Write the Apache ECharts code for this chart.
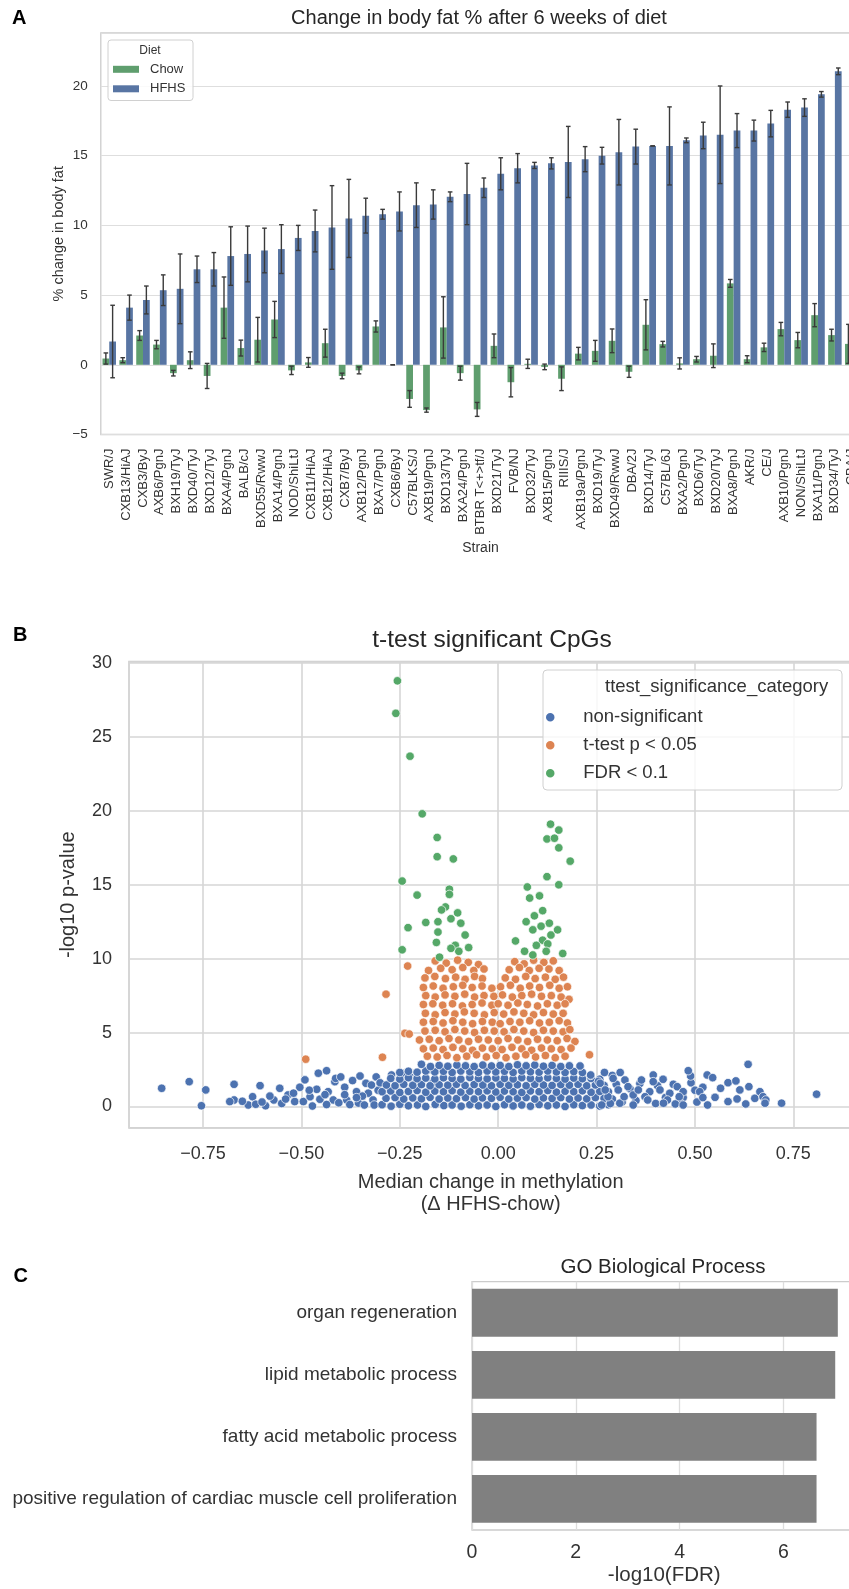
<!DOCTYPE html>
<html>
<head>
<meta charset="utf-8">
<script src="https://cdn.jsdelivr.net/npm/echarts@6/dist/echarts.min.js"></script>
<style>
html,body{margin:0;padding:0;background:#fff;overflow:hidden;width:849px;height:1589px;}
#c{width:900px;height:1589px;}
</style>
</head>
<body>
<div id="c"></div>
<script>
// ---------- Panel A data ----------
const strains = ['SWR/J','CXB13/HiAJ','CXB3/ByJ','AXB6/PgnJ','BXH19/TyJ','BXD40/TyJ','BXD12/TyJ','BXA4/PgnJ','BALB/cJ','BXD55/RwwJ','BXA14/PgnJ','NOD/ShiLtJ','CXB11/HiAJ','CXB12/HiAJ','CXB7/ByJ','AXB12/PgnJ','BXA7/PgnJ','CXB6/ByJ','C57BLKS/J','AXB19/PgnJ','BXD13/TyJ','BXA24/PgnJ','BTBR T<+>tf/J','BXD21/TyJ','FVB/NJ','BXD32/TyJ','AXB15/PgnJ','RIIIS/J','AXB19a/PgnJ','BXD19/TyJ','BXD49/RwwJ','DBA/2J','BXD14/TyJ','C57BL/6J','BXA2/PgnJ','BXD6/TyJ','BXD20/TyJ','BXA8/PgnJ','AKR/J','CE/J','AXB10/PgnJ','NON/ShiLtJ','BXA11/PgnJ','BXD34/TyJ','CBA/J'];
const chowMean = [0.45,0.33,2.1,1.45,-0.6,0.33,-0.8,4.1,1.2,1.8,3.25,-0.4,0.17,1.55,-0.8,-0.4,2.75,0.0,-2.45,-3.25,2.68,-0.6,-3.2,1.36,-1.25,0.07,-0.15,-1.0,0.8,1.0,1.72,-0.5,2.87,1.48,0.1,0.4,0.65,5.84,0.4,1.25,2.56,1.77,3.56,2.13,1.5];
const chowErr  = [0.4,0.18,0.35,0.3,0.2,0.6,0.9,2.2,0.57,1.6,1.3,0.3,0.35,1.0,0.2,0.25,0.4,0.0,0.6,0.15,2.2,0.5,0.5,0.85,1.05,0.33,0.2,0.85,0.45,0.75,0.85,0.4,1.8,0.2,0.4,0.2,0.85,0.28,0.25,0.3,0.48,0.55,0.83,0.42,1.4];
const hfhsMean = [1.67,4.1,4.65,5.35,5.45,6.85,6.85,7.8,7.95,8.2,8.3,9.1,9.6,9.85,10.5,10.7,10.8,11.0,11.45,11.5,12.05,12.25,12.7,13.7,14.1,14.3,14.45,14.55,14.75,15.0,15.25,15.65,15.7,15.7,16.1,16.45,16.5,16.8,16.8,17.3,18.3,18.45,19.4,21.05,21.5];
const hfhsErr  = [2.6,0.9,1.0,1.1,2.5,0.95,1.2,2.1,2.0,1.6,1.75,0.9,1.5,3.0,2.8,1.25,0.35,1.4,1.6,1.05,0.35,2.2,0.7,1.15,1.05,0.22,0.4,2.55,0.9,0.6,2.35,1.25,0.0,2.8,0.17,0.95,3.5,1.22,0.75,0.95,0.55,0.63,0.2,0.24,0.3];
const dietNames = ['Chow','HFHS'];

// ---------- Panel B data ----------
const catNames = ['non-significant','t-test p < 0.05','FDR < 0.1'];
const nonSig = [
[-0.855,1.23],[-0.785,1.68],[-0.743,1.12],[-0.754,0.05],[-0.671,1.5],[-0.671,0.44],[-0.682,0.33],[-0.605,1.41],[-0.624,0.66],[-0.635,0.1],[-0.616,0.15],[-0.591,0.05],[-0.57,0.44],[-0.555,1.23],[-0.534,0.78],[-0.517,0.33],[-0.504,1.3],[-0.491,1.8],[-0.495,0.33],[-0.478,0.66],[-0.457,2.25],[-0.436,2.42],[-0.415,1.68],[-0.413,1.9],[-0.461,1.16],[-0.453,0.49],[-0.432,1.0],[-0.419,0.44],[-0.472,0.03],[-0.436,0.13],[-0.385,0.44],[-0.377,0.13],[-0.351,2.06],[-0.336,1.57],[-0.36,1.0],[-0.33,0.9],[-0.355,0.23],[-0.318,0.44],[-0.305,1.1],
[-0.4,2.0],[-0.39,1.3],[-0.37,1.75],[-0.345,0.7],[-0.322,1.45],[-0.31,2.0],[-0.39,0.8],[-0.405,0.25],[-0.44,0.8],[-0.36,0.6],[-0.315,0.1],[-0.34,0.1],[-0.3,1.6],[-0.48,1.1],[-0.52,0.9],[-0.55,0.2],[-0.58,0.7],[-0.6,0.3],[-0.65,0.35],[-0.54,0.5],
[-0.271,2.13],[-0.245,2.25],[-0.224,2.0],[-0.208,1.9],[-0.174,2.5],[-0.166,1.62],
[-0.295,0.12],[-0.272,0.02],[-0.25,0.15],[-0.228,0.05],[-0.205,0.1],[-0.184,0.0],[-0.16,0.14],[-0.138,0.06],[-0.117,0.1],[-0.094,0.02],[-0.072,0.12],[-0.05,0.05],[-0.028,0.1],[-0.006,0.0],[0.016,0.12],[0.038,0.04],[0.06,0.1],[0.082,0.02],[0.104,0.13],[0.126,0.05],[0.148,0.1],[0.17,0.0],[0.192,0.12],[0.214,0.06],[0.236,0.1],[0.258,0.03],[0.28,0.12],
[-0.285,0.55],[-0.262,0.6],[-0.24,0.5],[-0.217,0.58],[-0.195,0.52],[-0.173,0.62],[-0.15,0.5],[-0.128,0.57],[-0.106,0.53],[-0.083,0.6],[-0.061,0.5],[-0.04,0.58],[-0.017,0.55],[0.005,0.62],[0.027,0.5],[0.049,0.56],[0.071,0.6],[0.093,0.5],[0.115,0.58],[0.137,0.54],[0.159,0.6],[0.181,0.5],[0.203,0.57],[0.225,0.52],[0.247,0.6],[0.269,0.55],[0.29,0.5],
[-0.295,1.0],[-0.273,1.05],[-0.25,0.95],[-0.228,1.02],[-0.206,1.08],[-0.184,0.96],[-0.161,1.04],[-0.139,1.0],[-0.117,1.07],[-0.095,0.97],[-0.072,1.03],[-0.05,1.0],[-0.028,1.06],[-0.006,0.98],[0.016,1.04],[0.038,1.0],[0.06,0.95],[0.082,1.05],[0.104,1.0],[0.126,1.08],[0.148,0.97],[0.17,1.03],[0.192,1.0],[0.214,1.06],[0.236,0.96],[0.258,1.02],[0.28,1.0],
[-0.284,1.45],[-0.262,1.4],[-0.24,1.5],[-0.217,1.43],[-0.195,1.48],[-0.173,1.4],[-0.15,1.47],[-0.128,1.44],[-0.106,1.5],[-0.084,1.42],[-0.061,1.48],[-0.039,1.45],[-0.017,1.4],[0.005,1.5],[0.027,1.43],[0.049,1.47],[0.071,1.4],[0.093,1.5],[0.115,1.45],[0.137,1.42],[0.159,1.48],[0.181,1.44],[0.203,1.5],[0.225,1.4],[0.247,1.46],[0.269,1.42],
[-0.273,1.9],[-0.25,1.85],[-0.228,1.95],[-0.206,1.88],[-0.184,1.92],[-0.161,1.86],[-0.139,1.94],[-0.117,1.9],[-0.095,1.85],[-0.072,1.96],[-0.05,1.9],[-0.028,1.87],[-0.006,1.93],[0.016,1.9],[0.038,1.86],[0.06,1.95],[0.082,1.9],[0.104,1.88],[0.126,1.94],[0.148,1.9],[0.17,1.85],[0.192,1.92],[0.214,1.88],[0.236,1.9],[0.258,1.84],
[-0.25,2.3],[-0.228,2.38],[-0.206,2.32],[-0.184,2.4],[-0.161,2.34],[-0.139,2.38],[-0.117,2.3],[-0.095,2.4],[-0.072,2.35],[-0.05,2.3],[-0.028,2.4],[-0.006,2.34],[0.016,2.38],[0.038,2.3],[0.06,2.4],[0.082,2.35],[0.104,2.32],[0.126,2.4],[0.148,2.34],[0.17,2.3],[0.192,2.36],[0.214,2.3],[0.235,2.1],
[-0.195,2.85],[-0.172,2.7],[-0.15,2.78],[-0.128,2.72],[-0.105,2.8],[-0.083,2.75],[-0.061,2.7],[-0.039,2.8],[-0.017,2.74],[0.005,2.78],[0.027,2.7],[0.049,2.82],[0.071,2.75],[0.093,2.8],[0.115,2.72],[0.137,2.78],[0.159,2.7],[0.181,2.75],[0.208,2.74],
[0.3,1.5],[0.315,0.3],[0.335,1.2],[0.35,0.4],[0.36,1.55],[0.385,1.0],[0.4,0.2],[0.405,1.4],[0.425,0.6],[0.445,1.5],[0.47,0.6],[0.49,1.6],[0.505,0.3],[0.52,1.3],[0.29,2.1],[0.31,2.3],[0.27,2.3],[0.285,0.2],[0.255,1.7],
[0.419,1.84],[0.394,2.13],[0.394,1.68],[0.373,0.66],[0.343,0.78],[0.343,0.1],[0.309,0.22],[0.292,1.9],[0.279,0.66],[0.263,0.1],[0.322,1.79],[0.364,1.79],[0.411,1.12],[0.436,0.89],[0.43,0.44],[0.38,0.44],[0.356,1.12],[0.33,1.34],[0.305,1.12],[0.32,0.66],[0.259,1.57],[0.272,1.12],[0.42,0.22],[0.455,1.34],
[0.5,1.1],[0.47,1.0],[0.46,0.33],[0.45,0.17],[0.46,0.66],[0.47,0.1],[0.489,2.06],[0.483,2.42],[0.512,1.0],[0.52,0.6],[0.531,2.13],[0.545,1.95],[0.532,0.1],[0.551,0.62],[0.565,1.23],[0.584,1.61],[0.584,0.33],[0.604,1.73],[0.607,0.51],[0.614,1.12],[0.637,1.34],[0.629,0.17],[0.652,0.55],[0.665,1.0],[0.673,0.66],[0.68,0.44],[0.678,0.22],[0.72,0.22],[0.635,2.85],[0.809,0.83],[0.208,2.74],[0.235,2.13]
];
const ttestSig = [
[-0.16,9.85],[-0.132,9.7],[-0.103,9.9],[-0.076,9.75],[-0.05,9.6],[0.042,9.8],[0.066,9.65],[0.09,9.9],[0.116,9.75],[0.14,9.85],
[-0.177,9.2],[-0.146,9.35],[-0.117,9.25],[-0.09,9.4],[-0.062,9.2],[-0.036,9.3],[0.028,9.25],[0.054,9.4],[0.079,9.2],[0.104,9.35],[0.129,9.3],[0.155,9.2],
[-0.186,8.7],[-0.161,8.8],[-0.134,8.65],[-0.108,8.75],[-0.084,8.6],[-0.06,8.8],[-0.04,8.65],[0.018,8.7],[0.044,8.6],[0.07,8.8],[0.094,8.65],[0.12,8.75],[0.145,8.6],[0.166,8.75],
[-0.19,8.05],[-0.165,8.15],[-0.14,8.0],[-0.114,8.1],[-0.09,8.2],[-0.066,8.05],[-0.041,8.15],[-0.016,8.0],[0.006,8.1],[0.031,8.2],[0.056,8.0],[0.08,8.15],[0.105,8.05],[0.131,8.2],[0.155,8.0],[0.176,8.1],
[-0.184,7.5],[-0.16,7.4],[-0.135,7.55],[-0.11,7.45],[-0.085,7.6],[-0.06,7.4],[-0.036,7.5],[-0.011,7.45],[0.011,7.55],[0.036,7.4],[0.06,7.5],[0.085,7.6],[0.11,7.45],[0.135,7.5],[0.16,7.4],[0.18,7.25],
[-0.19,6.9],[-0.166,6.95],[-0.141,6.85],[-0.116,6.95],[-0.091,6.8],[-0.066,6.9],[-0.041,7.0],[-0.016,6.85],[0.0,6.95],[0.025,6.85],[0.05,7.0],[0.074,6.9],[0.1,6.8],[0.125,6.95],[0.15,6.85],[0.17,6.95],
[-0.185,6.3],[-0.16,6.2],[-0.135,6.35],[-0.11,6.25],[-0.086,6.4],[-0.061,6.3],[-0.035,6.2],[-0.01,6.35],[0.014,6.25],[0.04,6.4],[0.065,6.3],[0.09,6.2],[0.115,6.35],[0.14,6.25],[0.165,6.3],
[-0.19,5.7],[-0.165,5.75],[-0.14,5.65],[-0.115,5.8],[-0.09,5.7],[-0.065,5.6],[-0.04,5.75],[-0.015,5.7],[0.005,5.6],[0.03,5.75],[0.055,5.7],[0.08,5.8],[0.105,5.65],[0.13,5.7],[0.155,5.8],[0.176,5.65],
[-0.186,5.1],[-0.16,5.15],[-0.135,5.05],[-0.11,5.2],[-0.085,5.1],[-0.06,5.0],[-0.035,5.15],[-0.01,5.1],[0.015,5.05],[0.04,5.2],[0.065,5.1],[0.09,5.0],[0.115,5.15],[0.14,5.1],[0.165,5.05],[0.182,5.2],
[-0.2,4.5],[-0.175,4.55],[-0.15,4.45],[-0.125,4.6],[-0.1,4.5],[-0.075,4.4],[-0.05,4.55],[-0.025,4.5],[0.0,4.45],[0.025,4.6],[0.05,4.5],[0.075,4.4],[0.1,4.55],[0.125,4.5],[0.15,4.45],[0.175,4.6],[0.195,4.4],
[-0.19,3.9],[-0.165,3.95],[-0.14,3.85],[-0.115,4.0],[-0.09,3.9],[-0.065,3.8],[-0.04,3.95],[-0.015,3.9],[0.01,3.85],[0.035,4.0],[0.06,3.9],[0.085,3.8],[0.11,3.95],[0.135,3.9],[0.16,3.85],[0.185,3.95],
[-0.18,3.4],[-0.155,3.35],[-0.13,3.45],[-0.105,3.3],[-0.08,3.4],[-0.055,3.5],[-0.03,3.35],[-0.005,3.45],[0.02,3.3],[0.045,3.4],[0.07,3.5],[0.095,3.35],[0.12,3.45],[0.145,3.3],[0.17,3.4],
[-0.23,9.5],[-0.285,7.6],[-0.237,4.95],[-0.226,4.9],[-0.294,3.33],[-0.489,3.2],[0.232,3.5]
];
const fdrSig = [
[-0.256,28.8],[-0.26,26.6],[-0.224,23.7],[-0.193,19.8],[-0.155,18.2],[-0.155,16.9],[-0.114,16.75],[-0.244,15.25],[-0.206,14.3],[-0.124,14.7],[-0.124,14.35],[-0.134,13.5],[-0.144,13.3],[-0.103,13.1],[-0.12,12.7],[-0.184,12.45],[-0.153,12.5],[-0.229,12.1],[-0.095,12.4],[-0.153,11.8],[-0.084,11.6],[-0.157,11.1],[-0.109,10.9],[-0.244,10.6],[-0.075,10.75],[-0.149,10.1],[-0.1,10.5],[-0.12,10.7],
[0.133,19.1],[0.154,18.7],[0.124,18.1],[0.143,18.15],[0.154,17.5],[0.183,16.6],[0.124,15.55],[0.154,15.0],[0.074,14.85],[0.08,14.1],[0.105,14.25],[0.113,13.25],[0.092,12.9],[0.071,12.5],[0.13,12.4],[0.109,12.2],[0.088,11.95],[0.134,11.6],[0.151,11.95],[0.113,11.25],[0.044,11.2],[0.097,10.9],[0.126,11.0],[0.067,10.5],[0.088,10.25],[0.164,10.35],[0.122,10.5]
];

// ---------- Panel C data ----------
const goTerms = ['organ regeneration','lipid metabolic process','fatty acid metabolic process','positive regulation of cardiac muscle cell proliferation'];
const goValues = [7.05,7.0,6.64,6.64];

// ---------- styling ----------
const FONT = "'Liberation Sans', Arial, sans-serif";
const TXT = '#262626';
const GREEN_A = '#5f9e6e', BLUE_A = '#5875a3';
const SC = ['#4c72b0','#dd8452','#55a868'];
const minus = v => (v < 0 ? '\u2212' + (-v) : '' + v);

function errRender(off) {
  return function (params, api) {
    const i = api.value(0), m = api.value(1), e = api.value(2);
    const bw = api.size([1, 0])[0];
    const lo = api.coord([i, m - e]);
    const hi = api.coord([i, m + e]);
    const x = lo[0] + off * bw;
    const cw = 2.3;
    const st = { stroke: '#3a3a3a', lineWidth: 1.4 };
    return { type: 'group', children: [
      { type: 'line', shape: { x1: x, y1: lo[1], x2: x, y2: hi[1] }, style: st },
      { type: 'line', shape: { x1: x - cw, y1: lo[1], x2: x + cw, y2: lo[1] }, style: st },
      { type: 'line', shape: { x1: x - cw, y1: hi[1], x2: x + cw, y2: hi[1] }, style: st }
    ]};
  };
}

const chart = echarts.init(document.getElementById('c'), null, { renderer: 'canvas' });
const gridBase = { show: true, borderColor: '#cccccc', backgroundColor: 'transparent', containLabel: false, outerBoundsMode: 'none' };
const option = {
  animation: false,
  backgroundColor: '#fff',
  textStyle: { fontFamily: FONT, color: TXT },
  grid: [
    Object.assign({ left: 100.8, top: 33, width: 759.4, height: 401.5, borderWidth: 1.3 }, gridBase),
    Object.assign({ left: 129, top: 661.6, width: 723.4, height: 466.3, borderWidth: 1.6 }, gridBase),
    Object.assign({ left: 472, top: 1281.7, width: 384.5, height: 248.3, borderWidth: 1.3 }, gridBase)
  ],
  xAxis: [
    { gridIndex: 0, type: 'category', data: strains,
      axisLine: { show: false }, axisTick: { show: false },
      axisLabel: { interval: 0, rotate: 90, fontSize: 13, color: '#333', margin: 14, fontFamily: FONT },
      splitLine: { show: false }, nameMoveOverlap: false,
      name: 'Strain', nameLocation: 'middle', nameGap: 107, nameTextStyle: { fontSize: 14, color: '#333', fontFamily: FONT } },
    { gridIndex: 1, type: 'value', min: -0.938, max: 0.9, minInterval: 0.25, maxInterval: 0.25,
      axisLine: { show: false }, axisTick: { show: false },
      axisLabel: { fontSize: 18, color: '#333', margin: 17, showMinLabel: false, showMaxLabel: false,
        formatter: v => (v < 0 ? '\u2212' : '') + Math.abs(v).toFixed(2) },
      splitLine: { show: true, lineStyle: { color: '#d6d6d6', width: 1.6 } }, nameMoveOverlap: false,
      name: 'Median change in methylation\n(\u0394 HFHS-chow)', nameLocation: 'middle', nameGap: 44,
      nameTextStyle: { fontSize: 20, lineHeight: 22, color: '#333', fontFamily: FONT } },
    { gridIndex: 2, type: 'value', min: 0, max: 7.41, interval: 2,
      axisLine: { show: false }, axisTick: { show: false },
      axisLabel: { fontSize: 19.5, color: '#333', margin: 13, showMaxLabel: false },
      splitLine: { show: true, lineStyle: { color: '#dddddd', width: 1.3 } }, nameMoveOverlap: false,
      name: '-log10(FDR)', nameLocation: 'middle', nameGap: 35, nameTextStyle: { fontSize: 20.5, color: '#333', fontFamily: FONT } }
  ],
  yAxis: [
    { gridIndex: 0, type: 'value', min: -5, max: 23.8, interval: 5,
      axisLine: { show: false }, axisTick: { show: false },
      axisLabel: { fontSize: 13.5, color: '#333', margin: 13, showMaxLabel: false, formatter: minus },
      splitLine: { show: true, lineStyle: { color: '#dedede', width: 1.2 } }, nameMoveOverlap: false,
      name: '% change in body fat', nameLocation: 'middle', nameGap: 34, nameRotate: 90,
      nameTextStyle: { fontSize: 14.5, color: '#333', fontFamily: FONT } },
    { gridIndex: 1, type: 'value', min: -1.45, max: 30.1, minInterval: 5, maxInterval: 5,
      axisLine: { show: false }, axisTick: { show: false },
      axisLabel: { fontSize: 18, color: '#333', margin: 17, showMinLabel: false, showMaxLabel: false },
      splitLine: { show: true, lineStyle: { color: '#d6d6d6', width: 1.6 } }, nameMoveOverlap: false,
      name: '-log10 p-value', nameLocation: 'middle', nameGap: 51, nameRotate: 90,
      nameTextStyle: { fontSize: 20, color: '#333', fontFamily: FONT } },
    { gridIndex: 2, type: 'category', data: goTerms, inverse: true,
      axisLine: { show: false }, axisTick: { show: false },
      axisLabel: { fontSize: 19, color: '#333', margin: 15 },
      splitLine: { show: false } }
  ],
  legend: [
    { data: dietNames, orient: 'vertical', left: 113, top: 62.3, padding: 0, itemWidth: 26, itemHeight: 7, itemGap: 5.5,
      icon: 'rect', selectedMode: false, z: 6,
      textStyle: { fontSize: 13, lineHeight: 14, color: '#333', fontFamily: FONT, padding: [0, 0, 0, 6] } },
    { data: catNames, orient: 'vertical', left: 544, top: 707.3, padding: 0, itemWidth: 56, itemHeight: 10.5, itemGap: 8,
      icon: 'circle', selectedMode: false, z: 6,
      textStyle: { fontSize: 18.5, lineHeight: 20, color: '#333', fontFamily: FONT } }
  ],
  graphic: [
    { type: 'text', x: 12, y: 18, style: { text: 'A', font: "bold 20px " + FONT, fill: '#000', align: 'left', verticalAlign: 'middle', textAlign: 'left', textVerticalAlign: 'middle' } },
    { type: 'text', x: 13, y: 635.5, style: { text: 'B', font: "bold 20px " + FONT, fill: '#000', align: 'left', verticalAlign: 'middle', textAlign: 'left', textVerticalAlign: 'middle' } },
    { type: 'text', x: 13.5, y: 1276, style: { text: 'C', font: "bold 20px " + FONT, fill: '#000', align: 'left', verticalAlign: 'middle', textAlign: 'left', textVerticalAlign: 'middle' } },
    { type: 'text', x: 479, y: 18, style: { text: 'Change in body fat % after 6 weeks of diet', font: "20px " + FONT, fill: TXT, align: 'center', verticalAlign: 'middle', textAlign: 'center', textVerticalAlign: 'middle' } },
    { type: 'text', x: 492, y: 640, style: { text: 't-test significant CpGs', font: "24.5px " + FONT, fill: TXT, align: 'center', verticalAlign: 'middle', textAlign: 'center', textVerticalAlign: 'middle' } },
    { type: 'text', x: 663, y: 1267, style: { text: 'GO Biological Process', font: "20.5px " + FONT, fill: TXT, align: 'center', verticalAlign: 'middle', textAlign: 'center', textVerticalAlign: 'middle' } },
    { type: 'rect', z: 5, shape: { x: 108, y: 40, width: 85, height: 60.5, r: 3 }, style: { fill: 'rgba(255,255,255,0.85)', stroke: '#d0d0d0', lineWidth: 1 } },
    { type: 'text', z: 6, x: 150, y: 50.5, style: { text: 'Diet', font: "12px " + FONT, fill: '#333', align: 'center', verticalAlign: 'middle', textAlign: 'center', textVerticalAlign: 'middle' } },
    { type: 'rect', z: 5, shape: { x: 543, y: 670, width: 299, height: 120, r: 4 }, style: { fill: 'rgba(255,255,255,0.8)', stroke: '#d0d0d0', lineWidth: 1 } },
    { type: 'text', z: 6, x: 605, y: 687, style: { text: 'ttest_significance_category', font: "18.5px " + FONT, fill: '#333', align: 'left', verticalAlign: 'middle', textAlign: 'left', textVerticalAlign: 'middle' } }
  ],
  series: [
    { name: 'Chow', type: 'bar', xAxisIndex: 0, yAxisIndex: 0, data: chowMean, barWidth: '40%', barGap: '0%', itemStyle: { color: GREEN_A } },
    { name: 'HFHS', type: 'bar', xAxisIndex: 0, yAxisIndex: 0, data: hfhsMean, barWidth: '40%', barGap: '0%', itemStyle: { color: BLUE_A } },
    { name: 'Chow err', type: 'custom', xAxisIndex: 0, yAxisIndex: 0, z: 3, renderItem: errRender(-0.2),
      data: strains.map((s, i) => [i, chowMean[i], chowErr[i]]) },
    { name: 'HFHS err', type: 'custom', xAxisIndex: 0, yAxisIndex: 0, z: 3, renderItem: errRender(0.2),
      data: strains.map((s, i) => [i, hfhsMean[i], hfhsErr[i]]) },
    { name: catNames[0], type: 'scatter', xAxisIndex: 1, yAxisIndex: 1, data: nonSig, symbolSize: 8.5,
      itemStyle: { color: SC[0], borderColor: '#fff', borderWidth: 0.7, opacity: 1 } },
    { name: catNames[1], type: 'scatter', xAxisIndex: 1, yAxisIndex: 1, data: ttestSig, symbolSize: 8.5,
      itemStyle: { color: SC[1], borderColor: '#fff', borderWidth: 0.7, opacity: 1 } },
    { name: catNames[2], type: 'scatter', xAxisIndex: 1, yAxisIndex: 1, data: fdrSig, symbolSize: 8.5,
      itemStyle: { color: SC[2], borderColor: '#fff', borderWidth: 0.7, opacity: 1 } },
    { name: 'GO', type: 'bar', xAxisIndex: 2, yAxisIndex: 2, data: goValues, barWidth: '77%', itemStyle: { color: '#808080' } }
  ]
};
chart.setOption(option);
</script>
</body>
</html>
